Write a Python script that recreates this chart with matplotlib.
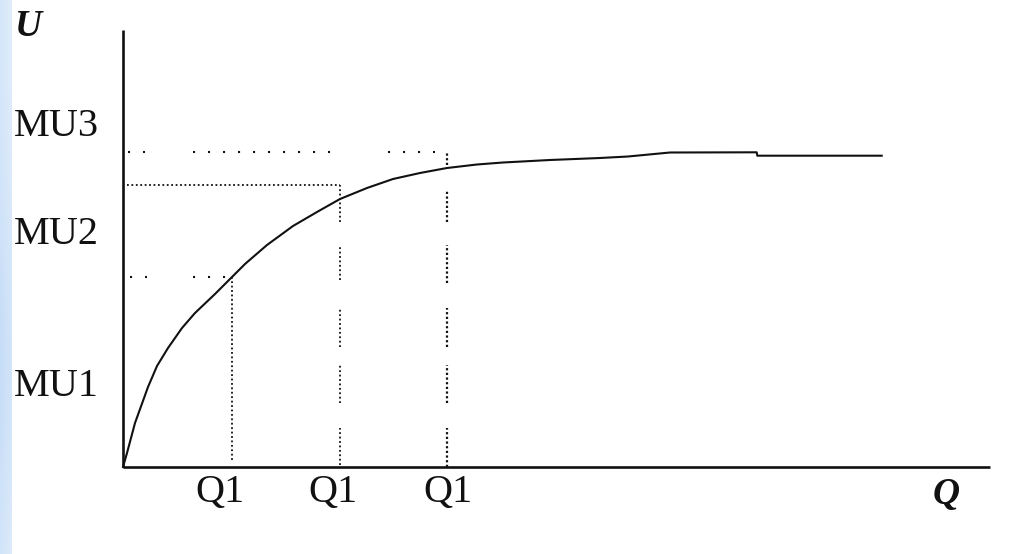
import numpy as np
import matplotlib
matplotlib.use("Agg")
import matplotlib.pyplot as plt

# ---- data (arbitrary units: Q along x, U along y) ----
curve_q = [0, 0.4, 1.2, 2.5, 3.4, 4.5, 5.9, 7.2, 9.2, 10.9, 12.2, 14.4, 17.0,
           19.4, 21.7, 24.4, 27.0, 29.7, 32.4, 35.4, 38.0, 42.7, 47.7, 50.5,
           54.7, 63.37, 63.43, 75.87]
curve_u = [0, 1.4, 4.4, 8.0, 10.1, 11.9, 13.9, 15.4, 17.3, 19.0, 20.3, 22.2, 24.1,
           25.5, 26.8, 27.9, 28.8, 29.4, 29.9, 30.25, 30.45, 30.7, 30.9, 31.05,
           31.45, 31.47, 31.13, 31.13]

q_marks = [10.87, 21.7, 32.4]          # Q1 positions
u_levels = [19.0, 28.2, 31.5]          # horizontal guide levels
q_labels = ["Q1", "Q1", "Q1"]
u_labels = ["MU1", "MU2", "MU3"]
u_label_pos = [8.0, 23.3, 34.0]        # label vertical positions
x_max, y_max = 86.7, 43.7

# ---- figure ----
W, H = 1029, 554
fig = plt.figure(figsize=(W / 100, H / 100), dpi=100)
fig.patch.set_facecolor("white")

# light-blue strip at left edge
strip = fig.add_axes([0, 0, 12 / W, 1])
yy = np.linspace(0, 1, 200)[:, None]
xx = np.linspace(0, 1, 12)[None, :]
a = 0.75 + 0.25 * np.exp(-((yy - 0.35) / 0.3) ** 2) - 0.2 * xx
rgb = np.zeros((200, 12, 3))
base = np.array([0.78, 0.87, 0.97])
for i in range(3):
    rgb[:, :, i] = 1 - a * (1 - base[i])
strip.imshow(rgb, aspect="auto", extent=[0, 1, 0, 1], origin="lower")
strip.axis("off")

left, right, top, bottom = 123, 990, 30, 467
ax = fig.add_axes([left / W, (H - bottom) / H, (right - left) / W, (bottom - top) / H])
ax.set_xlim(0, x_max)
ax.set_ylim(0, y_max)
ax.axis("off")
ax.patch.set_alpha(0)

ink = "#111111"
# axes lines
ax.plot([0, 0], [0, y_max], color=ink, lw=1.9, solid_capstyle="butt", clip_on=False)
ax.plot([0, x_max], [0, 0], color=ink, lw=1.9, solid_capstyle="butt", clip_on=False)

# curve
ax.plot(curve_q, curve_u, color=ink, lw=1.5, clip_on=False, solid_joinstyle="round")

dense = dict(color=ink, lw=1.3, linestyle=(0, (1, 1.45)))
sparse = dict(color=ink, lw=1.5, linestyle=(0, (1, 6.2)))

# horizontal guides (sparse dots with gaps, as in the reference)
ax.plot([0.5, 2.2], [u_levels[2]] * 2, **sparse)
ax.plot([7.0, q_marks[1] + 0.1], [u_levels[2]] * 2, **sparse)
ax.plot([26.5, 31.2], [u_levels[2]] * 2, **sparse)
ax.plot([0.4, q_marks[1]], [u_levels[1]] * 2, **dense)
ax.plot([0.7, 2.4], [u_levels[0]] * 2, **sparse)
ax.plot([7.0, q_marks[0]], [u_levels[0]] * 2, **sparse)

# vertical guides
ax.plot([q_marks[0]] * 2, [0.7, u_levels[0]], **dense)
for lo, hi in [(0.2, 3.9), (6.4, 10.2), (12.0, 15.9), (18.7, 22.2), (24.5, u_levels[1])]:
    ax.plot([q_marks[1]] * 2, [lo, hi], **dense)
dot3 = dict(color=ink, lw=1.6, linestyle=(0, (1, 1.1)))
for lo, hi in [(0.0, 3.9), (6.4, 10.2), (12.0, 15.9), (18.4, 22.2), (24.5, 27.7), (30.2, u_levels[2])]:
    ax.plot([q_marks[2]] * 2, [lo, hi], **dot3)

# text
serif = ["Liberation Serif", "DejaVu Serif"]
fs = 29
for lab, yv in zip(u_labels, u_label_pos):
    fig.text(14 / W, 1 - (467 - yv * 10) / H, lab, family=serif, fontsize=fs,
             ha="left", va="center", color=ink)
q_label_x = [220, 333, 448]
for lab, xp in zip(q_labels, q_label_x):
    fig.text(xp / W, 1 - 493 / H, lab, family=serif, fontsize=fs,
             ha="center", va="center", color=ink)

fig.text(29 / W, 1 - 27 / H, "U", family=serif, fontsize=27, fontweight="bold",
         fontstyle="italic", ha="center", va="center", color=ink)
fig.text(946 / W, 1 - 494 / H, "Q", family=serif, fontsize=27, fontweight="bold",
         fontstyle="italic", ha="center", va="center", color=ink)

fig.savefig("out.png", dpi=100, facecolor="white")
